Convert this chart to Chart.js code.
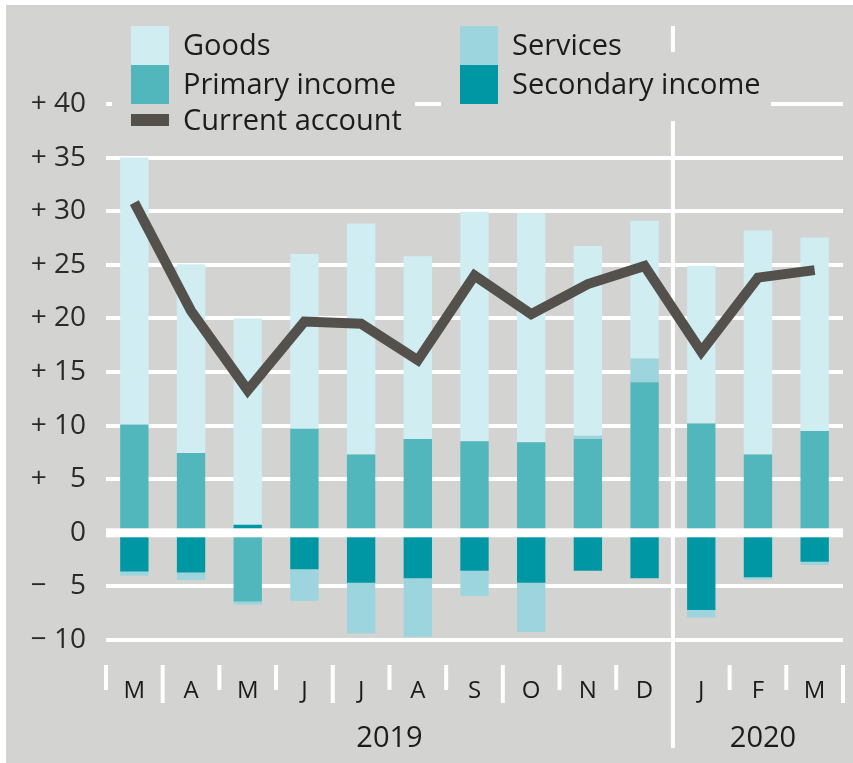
<!DOCTYPE html>
<html>
<head>
<meta charset="utf-8">
<script src="https://cdn.jsdelivr.net/npm/chart.js@4/dist/chart.umd.min.js"></script>
<style>
  body { margin: 0; background: #fff; }
  #wrap { position: relative; width: 853px; height: 763px; }
  #bg { position: absolute; left: 6px; top: 5px; right: 0; bottom: 0; background: #d3d3d2; }
  #graph { position: absolute; left: 0; top: 0; }
  .fond { position: absolute; background: #d3d3d2; }
  .leg { position: absolute; font-family: "Open Sans", sans-serif; font-size: 29px; color: #1c1c1c; white-space: nowrap; }
  .leg .sw { position: absolute; left: 19px; width: 38px; }
  .leg .txt { position: absolute; left: 71px; line-height: 1; }
</style>
</head>
<body>
<div id="wrap">
  <div id="bg"></div>
  <canvas id="graph" width="853" height="763"></canvas>
  <div id="fonds"></div>
  <div id="legende"></div>
</div>
<script>
// === DONNEES ===
const mois = ["M", "A", "M", "J", "J", "A", "S", "O", "N", "D", "J", "F", "M"];
const annees = ["2019", "2020"];
const goods = [24.9, 17.6, 19.25, 16.3, 21.55, 17.05, 21.4, 21.35, 17.7, 12.85, 14.7, 20.9, 18.05];
const services = [-0.4, -0.7, -0.3, -2.95, -4.75, -5.45, -2.35, -4.6, 0.3, 2.2, -0.7, -0.2, -0.3];
const primary = [10.1, 7.45, -6.4, 9.7, 7.3, 8.75, 8.55, 8.45, 8.75, 14.05, 10.2, 7.3, 9.5];
const secondary = [-3.6, -3.7, 0.75, -3.4, -4.65, -4.25, -3.55, -4.65, -3.55, -4.25, -7.2, -4.15, -2.7];
const currentAccount = [30.8, 20.7, 13.3, 19.7, 19.5, 16.1, 24.0, 20.4, 23.2, 24.9, 16.9, 23.8, 24.5];

const COUL = {
  goods: "#d0eef2",
  services: "#9cd5dd",
  primary: "#52b6bd",
  secondary: "#0097a5",
  ligne: "#54504b",
  grille: "#ffffff",
  texte: "#1c1c1c"
};
const POLICE = '"Open Sans", sans-serif';

// === LEGENDE HTML (2 colonnes) ===
const legende = [
  { label: "Goods", color: COUL.goods, col: 0, row: 0 },
  { label: "Services", color: COUL.services, col: 1, row: 0 },
  { label: "Primary income", color: COUL.primary, col: 0, row: 1 },
  { label: "Secondary income", color: COUL.secondary, col: 1, row: 1 },
  { label: "Current account", color: COUL.ligne, col: 0, row: 2, line: true }
];
function construireLegende() {
  const zone = document.getElementById("legende");
  const fonds = document.getElementById("fonds");
  const colX = [131, 460];
  const rowY = [45, 84, 120];
  legende.forEach(it => {
    const d = document.createElement("div");
    d.className = "leg";
    const haut = it.line ? 14 : 32;
    const bas = it.line ? 16 : 37;
    d.style.left = (colX[it.col] - 19) + "px";
    d.style.top = (rowY[it.row] - haut) + "px";
    d.style.height = (haut + bas) + "px";
    const sw = document.createElement("div");
    sw.className = "sw";
    sw.style.background = it.color;
    sw.style.height = (it.line ? 12 : 39) + "px";
    sw.style.top = (haut - (it.line ? 6 : 19)) + "px";
    const t = document.createElement("div");
    t.className = "txt";
    t.textContent = it.label;
    t.style.top = (haut - 16) + "px";
    d.appendChild(sw);
    d.appendChild(t);
    zone.appendChild(d);
    const larg = 71 + t.offsetWidth + (it.col ? 10 : 19);
    d.style.width = larg + "px";
    // fond gris sous l'item (cache grille et separateur)
    const f = document.createElement("div");
    f.className = "fond";
    f.style.left = d.style.left;
    f.style.top = d.style.top;
    f.style.height = d.style.height;
    f.style.width = larg + "px";
    fonds.appendChild(f);
  });
}
construireLegende();

// === DECOR : ligne zero, separateur, graduations, annees ===
const decor = {
  id: "decor",
  beforeDatasetsDraw(chart) {
    const ctx = chart.ctx;
    const a = chart.chartArea;
    const pas = (a.right - a.left) / mois.length;
    ctx.save();
    ctx.strokeStyle = COUL.grille;
    ctx.lineWidth = 4;
    for (let i = 0; i <= mois.length; i++) {
      const x = a.left + i * pas;
      ctx.beginPath();
      if (i === 10) {
        ctx.moveTo(x, 26);
        ctx.lineTo(x, 748);
      } else {
        ctx.moveTo(x, a.bottom + 25);
        ctx.lineTo(x, a.bottom + ((i - 1) % 3 === 0 ? 63 : 50));
      }
      ctx.stroke();
    }
    ctx.restore();
  },
  afterDatasetsDraw(chart) {
    const ctx = chart.ctx;
    const a = chart.chartArea;
    const y0 = chart.scales.y.getPixelForValue(0);
    ctx.save();
    ctx.fillStyle = COUL.grille;
    ctx.fillRect(a.left, y0 - 4.5, a.right - a.left, 9);
    ctx.restore();
  },
  afterDraw(chart) {
    const ctx = chart.ctx;
    const a = chart.chartArea;
    const pas = (a.right - a.left) / mois.length;
    const sep = a.left + 10 * pas;
    ctx.save();
    ctx.fillStyle = COUL.texte;
    ctx.font = "29px " + POLICE;
    ctx.textAlign = "center";
    ctx.textBaseline = "middle";
    ctx.fillText(annees[0], (a.left + sep) / 2, 739);
    ctx.fillText(annees[1], (sep + chart.width) / 2, 739);
    ctx.restore();
  }
};

function etiquetteY(v) {
  if (v === 0) return "0";
  const signe = v > 0 ? "+ " : "\u2212 ";
  const n = Math.abs(v);
  return signe + (n < 10 ? "\u2007" : "") + n;
}

// === GRAPHIQUE ===
const ctx = document.getElementById("graph").getContext("2d");
new Chart(ctx, {
  type: "bar",
  data: {
    labels: mois,
    datasets: [
      {
        type: "line",
        label: "Current account",
        data: currentAccount,
        borderColor: COUL.ligne,
        borderWidth: 10,
        borderJoinStyle: "miter",
        borderCapStyle: "butt",
        pointRadius: 0,
        tension: 0,
        fill: false,
        stack: "ca",
        order: 0
      },
      { label: "Secondary income", data: secondary, backgroundColor: COUL.secondary, stack: "cc", order: 1 },
      { label: "Primary income", data: primary, backgroundColor: COUL.primary, stack: "cc", order: 1 },
      { label: "Services", data: services, backgroundColor: COUL.services, stack: "cc", order: 1 },
      { label: "Goods", data: goods, backgroundColor: COUL.goods, stack: "cc", order: 1 }
    ]
  },
  options: {
    responsive: false,
    devicePixelRatio: 1,
    animation: false,
    layout: { padding: { top: 104, right: 10, left: 0, bottom: 0 } },
    datasets: { bar: { barPercentage: 1, categoryPercentage: 0.5, borderWidth: 0 } },
    plugins: { legend: { display: false }, tooltip: { enabled: false } },
    scales: {
      x: {
        stacked: true,
        grid: { display: true, drawOnChartArea: false, drawTicks: true, tickLength: 37, tickColor: "rgba(0,0,0,0)" },
        border: { display: false },
        ticks: { color: COUL.texte, font: { family: POLICE, size: 24 }, padding: 0, maxRotation: 0, autoSkip: false },
        afterFit: s => { s.height = 123; }
      },
      y: {
        stacked: true,
        min: -10,
        max: 40,
        grid: { color: COUL.grille, lineWidth: 4, drawTicks: false },
        border: { display: false },
        ticks: { stepSize: 5, color: "#2a2a2a", font: { family: POLICE, size: 28 }, padding: 20, callback: etiquetteY },
        afterFit: s => { s.width = 106; }
      }
    }
  },
  plugins: [decor]
});
</script>
</body>
</html>
